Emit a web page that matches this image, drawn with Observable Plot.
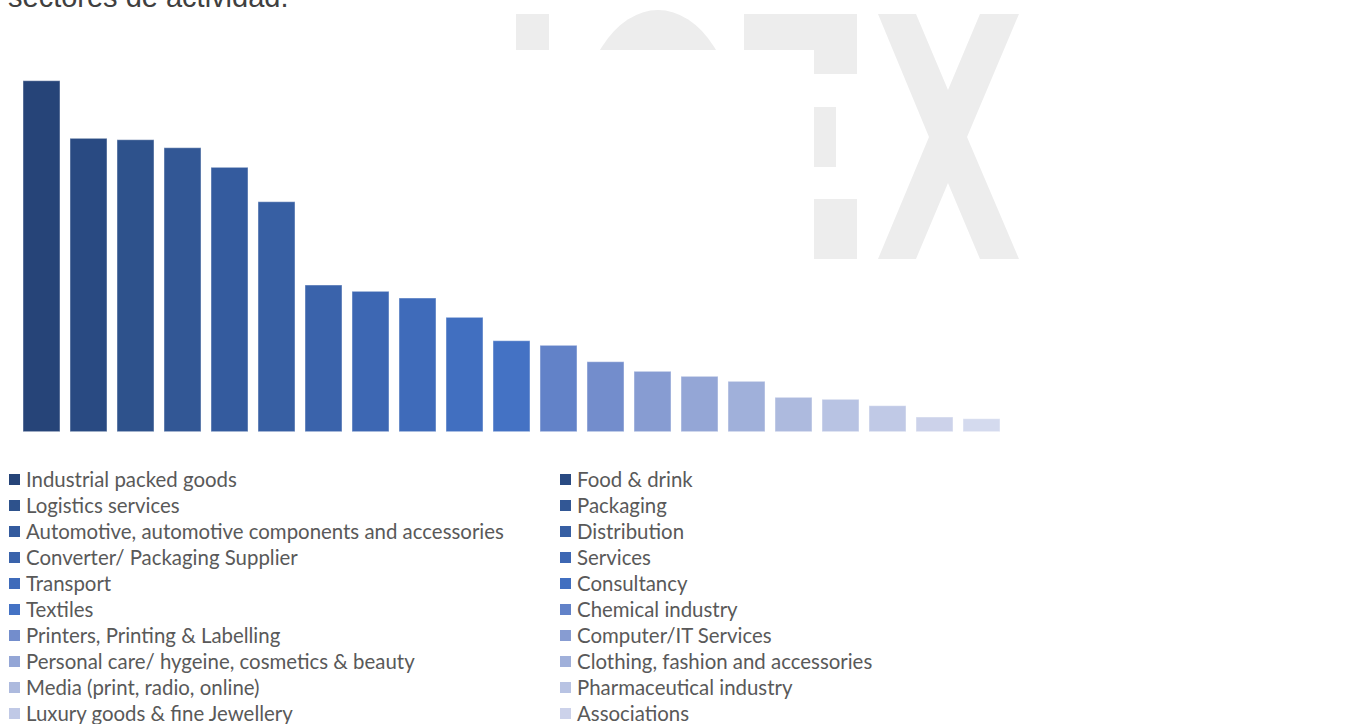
<!DOCTYPE html>
<html><head><meta charset="utf-8">
<script src="https://cdn.jsdelivr.net/npm/d3@7"></script>
<script src="https://cdn.jsdelivr.net/npm/@observablehq/plot@0.6"></script>
<style>
html,body{margin:0;padding:0;background:#fff;width:1356px;height:724px;overflow:hidden;position:relative}
#wm{position:absolute;left:0;top:0}
#chart{position:absolute;left:0;top:0}
#legend{position:absolute;left:9px;top:466px;display:grid;grid-template-columns:551px auto;grid-auto-rows:26px;font-family:Lato,"Noto Sans",sans-serif;color:#595959;font-size:20px}
.item{display:flex;align-items:center;white-space:nowrap}
.sw{width:11px;height:11px;margin-right:6px;flex:none}
</style></head><body>
<svg id="wm" width="1356" height="300" xmlns="http://www.w3.org/2000/svg">
  <defs><clipPath id="cclip"><rect x="590" y="0" width="126" height="50"/></clipPath></defs>
  <g fill="#ededed">
    <rect x="516" y="14" width="33" height="36"/>
    <ellipse cx="658" cy="134.5" rx="79" ry="124.5" clip-path="url(#cclip)"/>
    <polygon points="744,14 857,14 857,74 814,74 814,50 744,50"/>
    <rect x="814" y="107" width="22" height="60"/>
    <rect x="814" y="199" width="43" height="60"/>
    <polygon points="878,14 916,14 948,90 980,14 1019,14 967,137 1019,259 980,259 948,183 916,259 878,259 929,137"/>
  </g>
  <text x="8" y="7" font-family="'Liberation Sans',Arial,sans-serif" font-size="29" fill="#404040">sectores de actividad.</text>
</svg>
<div id="chart"></div>
<div id="legend"></div>
<script>
const categories = [
  "Industrial packed goods",
  "Food & drink",
  "Logistics services",
  "Packaging",
  "Automotive, automotive components and accessories",
  "Distribution",
  "Converter/ Packaging Supplier",
  "Services",
  "Transport",
  "Consultancy",
  "Textiles",
  "Chemical industry",
  "Printers, Printing & Labelling",
  "Computer/IT Services",
  "Personal care/ hygeine, cosmetics & beauty",
  "Clothing, fashion and accessories",
  "Media (print, radio, online)",
  "Pharmaceutical industry",
  "Luxury goods & fine Jewellery",
  "Associations",
  "Others"
];
const values = [351, 293.4, 292, 284, 264.4, 230, 146.7, 140.4, 133.7, 114.4, 91, 86.4, 70, 60.4, 55.4, 50.4, 34.4, 32.4, 26, 14.7, 13];
const palette = ["#264478","#294a82","#2e528c","#325795","#345b9e","#375fa3","#3a63ab","#3d67b3","#3f6bba","#416fc0","#4472c4","#6282c8","#738dcc","#879cd2","#94a6d6","#a0b0da","#adbade","#b8c3e3","#c0c9e6","#ccd2ea","#d4daee"];

const data = categories.map((c, i) => ({category: c, value: values[i]}));

const chart = Plot.plot({
  width: 1022,
  height: 440,
  marginLeft: 11.6,
  marginRight: 11.6,
  marginTop: 80.7,
  marginBottom: 8.3,
  style: {background: "transparent"},
  x: {domain: categories, padding: 0.215, axis: null},
  y: {domain: [0, 351], axis: null},
  color: {domain: categories, range: palette},
  marks: [
    Plot.barY(data, {x: "category", y: "value", fill: "category", stroke: "#ffffff", strokeOpacity: 0.45, strokeWidth: 1})
  ]
});
document.getElementById("chart").appendChild(chart);

const legend = document.getElementById("legend");
const colorScale = chart.scale("color");
categories.forEach(c => {
  const item = document.createElement("div");
  item.className = "item";
  const sw = document.createElement("span");
  sw.className = "sw";
  sw.style.background = colorScale.apply(c);
  const t = document.createElement("span");
  t.className = "lbl";
  t.textContent = c;
  item.appendChild(sw);
  item.appendChild(t);
  legend.appendChild(item);
});
// fit the font size so the longest label spans like the reference
const longest = [...legend.querySelectorAll(".lbl")].find(s => s.textContent.startsWith("Automotive"));
const w = longest.getBoundingClientRect().width;
if (w > 0) legend.style.fontSize = (20 * 478 / w).toFixed(2) + "px";
</script>
</body></html>
